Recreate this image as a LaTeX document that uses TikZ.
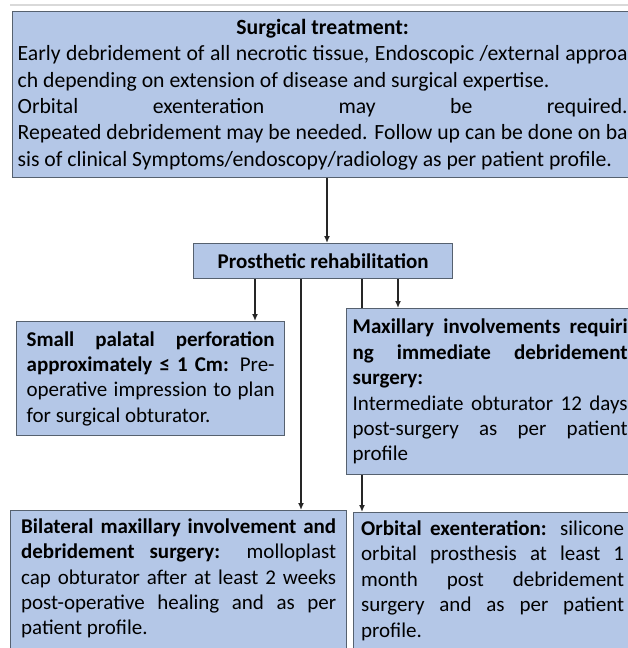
\documentclass[tikz,border=0pt]{standalone}
\usepackage{fontspec}
\setmainfont{Carlito}
\usetikzlibrary{arrows.meta}
\pgfdeclarelayer{bg}
\pgfsetlayers{bg,main}
\definecolor{boxblue}{HTML}{B4C7E7}
\definecolor{boxline}{HTML}{56616F}
\newcommand{\jst}[1]{\makebox[\linewidth][s]{#1}}

\begin{document}
\begin{tikzpicture}[x=1pt, y=-1pt, >={Latex[length=7pt, width=6pt]},
    box/.style={draw=boxline, fill=boxblue, line width=1.3pt, inner sep=0pt,
      anchor=north west, align=justify, font=\fontsize{21}{25.4}\selectfont},
    conn/.style={line width=2pt, draw=black!85}]
      \useasboundingbox (0,0) rectangle (628,648);
      \clip (0,0) rectangle (628,648);
      \draw[black!15, line width=2pt] (10,5) -- (628,5);

      \coordinate (c1) at (327,0);
      \coordinate (c2) at (255,0);
      \coordinate (c3) at (301,0);
      \coordinate (c4) at (362,0);
      \coordinate (c5) at (398,0);

      \node[box, minimum width=620, minimum height=166, text width=610,
        font=\fontsize{21.7}{26.4}\selectfont] (surgery) at (12,11) {%
        \makebox[\linewidth]{\textbf{Surgical treatment:}}\\
        \jst{Early debridement of all necrotic tissue, Endoscopic /external approa}\\
        \mbox{ch depending on extension of disease and surgical expertise.}\\
        \jst{Orbital exenteration may be required.}\\
        \jst{Repeated debridement may be needed. Follow up can be done on ba}\\
        \mbox{sis of clinical Symptoms/endoscopy/radiology as per patient profile.}};

      \node[box, minimum width=259, minimum height=35, align=center] (prosth) at (193,243)
        {\textbf{Prosthetic rehabilitation}};

      \node[box, minimum width=268, minimum height=114, text width=248] (palatal) at (16,321) {%
        \jst{\textbf{Small palatal perforation}}\\
        \jst{\textbf{approximately ≤ 1 Cm:} Pre-}\\
        \jst{operative impression to plan}\\
        \mbox{for surgical obturator.}};

      \node[box, minimum width=287, minimum height=166, text width=275] (maxillary) at (346,308) {%
        \jst{\textbf{Maxillary involvements requiri}}\\
        \jst{\textbf{ng immediate debridement}}\\
        \mbox{\textbf{surgery:}}\\
        \jst{Intermediate obturator 12 days}\\
        \jst{post-surgery as per patient}\\
        \mbox{profile}};

      \node[box, minimum width=336, text width=315, inner ysep=8pt, text depth=150pt] (bilateral) at (10,510) {%
        \jst{\textbf{Bilateral maxillary involvement and}}\\
        \jst{\textbf{debridement surgery:} molloplast}\\
        \jst{cap obturator after at least 2 weeks}\\
        \jst{post-operative healing and as per}\\
        \mbox{patient profile.}};

      \node[box, minimum width=278, text width=263, inner ysep=8pt, text depth=150pt] (orbital) at (353,512) {%
        \jst{\textbf{Orbital exenteration:} silicone}\\
        \jst{orbital prosthesis at least 1}\\
        \jst{month post debridement}\\
        \jst{surgery and as per patient}\\
        \mbox{profile.}};

      \draw[conn, ->] (surgery.south -| c1) -- (prosth.north -| c1);
      \draw[conn, ->] (prosth.south -| c2) -- (palatal.north -| c2);
      \draw[conn, ->] (prosth.south -| c3) -- (bilateral.north -| c3);
      \draw[conn, ->] (prosth.south -| c5) -- (maxillary.north -| c5);
      \begin{pgfonlayer}{bg}
        \draw[conn, ->] (prosth.south -| c4) -- (orbital.north -| c4);
      \end{pgfonlayer}
\end{tikzpicture}
\end{document}
